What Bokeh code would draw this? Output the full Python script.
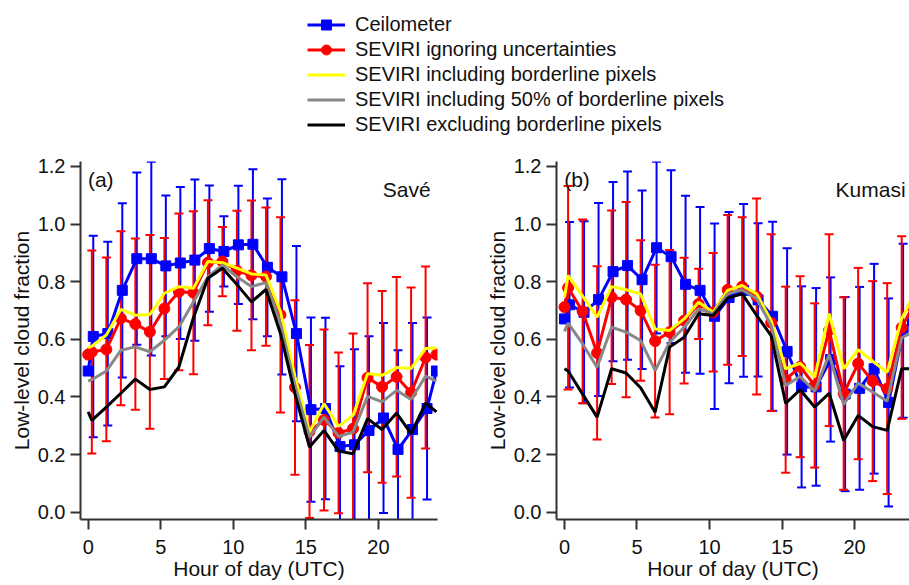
from bokeh.plotting import figure
from bokeh.models import (Range1d, FixedTicker, PrintfTickFormatter, Legend,
                          LegendItem, Label)
from bokeh.layouts import column, row
from bokeh.embed import file_html
from bokeh.resources import INLINE

# ---------------- data ----------------
HOURS = [0.25, 1.25, 2.25, 3.25, 4.25, 5.25, 6.25, 7.25, 8.25, 9.25, 10.25, 11.25,
         12.25, 13.25, 14.25, 15.25, 16.25, 17.25, 18.25, 19.25, 20.25, 21.25, 22.25, 23.25]
WRAP_HOURS = [0, 24]
X_TICKS = [0, 5, 10, 15, 20]
Y_TICKS = [0.0, 0.2, 0.4, 0.6, 0.8, 1.0, 1.2]

SERIES_NAMES = ["Ceilometer",
                "SEVIRI ignoring uncertainties",
                "SEVIRI including borderline pixels",
                "SEVIRI including 50% of borderline pixels",
                "SEVIRI excluding borderline pixels"]

# Savé
save_ceil = [0.61, 0.62, 0.77, 0.88, 0.88, 0.855, 0.865, 0.875, 0.915, 0.905, 0.928, 0.93,
             0.85, 0.817, 0.62, 0.356, 0.36, 0.228, 0.234, 0.284, 0.327, 0.218, 0.287, 0.36]
save_ceil_wrap = 0.49
save_ceil_sd = [0.35, 0.319, 0.302, 0.299, 0.336, 0.244, 0.264, 0.28, 0.219, 0.122, 0.205, 0.26,
                0.239, 0.339, 0.304, 0.32, 0.315, 0.279, 0.332, 0.327, 0.33, 0.344, 0.37, 0.316]
save_sev = [0.556, 0.565, 0.673, 0.653, 0.626, 0.707, 0.765, 0.762, 0.866, 0.87, 0.838, 0.822,
            0.818, 0.685, 0.433, 0.28, 0.32, 0.275, 0.29, 0.467, 0.435, 0.47, 0.415, 0.537]
save_sev_wrap = 0.547
save_sev_sd = [0.352, 0.319, 0.302, 0.297, 0.336, 0.245, 0.272, 0.283, 0.217, 0.12, 0.208, 0.26,
               0.24, 0.339, 0.303, 0.3, 0.314, 0.279, 0.33, 0.328, 0.333, 0.346, 0.365, 0.316]
save_inc = [0.576, 0.615, 0.704, 0.684, 0.686, 0.76, 0.783, 0.777, 0.87, 0.866, 0.847, 0.827,
            0.823, 0.696, 0.47, 0.278, 0.377, 0.298, 0.336, 0.481, 0.475, 0.502, 0.499, 0.568]
save_inc_wrap = 0.57
save_half = [0.46, 0.49, 0.562, 0.574, 0.557, 0.597, 0.643, 0.73, 0.817, 0.858, 0.817, 0.783,
             0.797, 0.655, 0.44, 0.261, 0.33, 0.263, 0.278, 0.402, 0.383, 0.423, 0.391, 0.472]
save_half_wrap = 0.455
save_exc = [0.319, 0.365, 0.413, 0.462, 0.426, 0.435, 0.504, 0.675, 0.812, 0.847, 0.79, 0.73,
            0.773, 0.62, 0.41, 0.226, 0.284, 0.212, 0.203, 0.325, 0.287, 0.344, 0.273, 0.379]
save_exc_wrap = 0.348

# Kumasi
kum_ceil = [0.72, 0.694, 0.738, 0.835, 0.856, 0.807, 0.918, 0.887, 0.791, 0.77, 0.68, 0.745,
            0.77, 0.737, 0.68, 0.558, 0.435, 0.435, 0.53, 0.41, 0.43, 0.498, 0.381, 0.63]
kum_ceil_wrap = 0.671
kum_ceil_sd = [0.287, 0.316, 0.335, 0.311, 0.327, 0.31, 0.298, 0.3, 0.307, 0.289, 0.322, 0.297,
               0.3, 0.266, 0.328, 0.358, 0.349, 0.343, 0.285, 0.337, 0.352, 0.364, 0.361, 0.302]
kum_sev = [0.779, 0.697, 0.553, 0.746, 0.738, 0.7, 0.594, 0.625, 0.665, 0.723, 0.694, 0.772,
           0.783, 0.749, 0.658, 0.46, 0.505, 0.44, 0.632, 0.412, 0.516, 0.455, 0.429, 0.641]
kum_sev_wrap = 0.712
kum_sev_sd = [0.353, 0.319, 0.301, 0.301, 0.339, 0.244, 0.265, 0.285, 0.218, 0.122, 0.206, 0.26,
              0.241, 0.34, 0.307, 0.323, 0.314, 0.285, 0.333, 0.334, 0.332, 0.347, 0.366, 0.317]
kum_inc = [0.822, 0.75, 0.677, 0.783, 0.772, 0.758, 0.636, 0.631, 0.671, 0.729, 0.694, 0.77,
           0.787, 0.758, 0.665, 0.498, 0.517, 0.469, 0.689, 0.498, 0.564, 0.524, 0.486, 0.671]
kum_inc_wrap = 0.746
kum_half = [0.656, 0.584, 0.503, 0.642, 0.625, 0.596, 0.492, 0.59, 0.642, 0.706, 0.689, 0.758,
            0.772, 0.741, 0.648, 0.44, 0.471, 0.42, 0.547, 0.374, 0.448, 0.417, 0.385, 0.605]
kum_half_wrap = 0.628
kum_exc = [0.49, 0.41, 0.33, 0.498, 0.483, 0.432, 0.347, 0.573, 0.607, 0.689, 0.683, 0.743,
           0.758, 0.683, 0.613, 0.378, 0.425, 0.365, 0.413, 0.249, 0.336, 0.297, 0.284, 0.498]
kum_exc_wrap = 0.498

# ---------------- style ----------------
BLUE = "#0000ff"
RED = "#ff0000"
YELLOW = "#ffff00"
GRAY = "#888888"
BLACK = "#000000"
FONT = "Liberation Sans"
TEXT = "#111111"
CEIL_OFFSET = 0.1


def with_wrap(xs, vals, wrap):
    return [WRAP_HOURS[0]] + list(xs) + [WRAP_HOURS[1]], [wrap] + list(vals) + [wrap]


def error_bars(p, xs, mean, sd, color):
    up = [m + s for m, s in zip(mean, sd)]
    lo = [m - s for m, s in zip(mean, sd)]
    p.segment(x0=xs, y0=lo, x1=xs, y1=up, line_color=color, line_width=2)
    p.scatter(x=xs, y=up, marker="dash", size=9, line_color=color, line_width=2)
    p.scatter(x=xs, y=lo, marker="dash", size=9, line_color=color, line_width=2)


def make_panel(x_start, x_end, width, min_left, min_right, d, tag, site, site_x):
    p = figure(width=width, height=437, x_range=Range1d(x_start, x_end),
               y_range=Range1d(-0.0253, 1.2173), toolbar_location=None, tools="",
               output_backend="svg", min_border_left=min_left, min_border_right=min_right,
               min_border_top=13, min_border_bottom=66)
    p.outline_line_color = None
    p.grid.visible = False
    p.background_fill_color = "white"
    p.border_fill_color = "white"

    ceil_x = [h + CEIL_OFFSET for h in HOURS]
    error_bars(p, ceil_x, d["ceil"], d["ceil_sd"], BLUE)
    error_bars(p, HOURS, d["sev"], d["sev_sd"], RED)

    x, y = with_wrap(ceil_x, d["ceil"], d["ceil_wrap"])
    p.line(x, y, line_color=BLUE, line_width=3)
    p.scatter(x, y, marker="square", size=10, fill_color=BLUE, line_color=BLUE)
    x, y = with_wrap(HOURS, d["sev"], d["sev_wrap"])
    p.line(x, y, line_color=RED, line_width=3)
    p.scatter(x, y, marker="circle", size=11, fill_color=RED, line_color=RED)
    x, y = with_wrap(HOURS, d["inc"], d["inc_wrap"])
    p.line(x, y, line_color=YELLOW, line_width=3)
    x, y = with_wrap(HOURS, d["half"], d["half_wrap"])
    p.line(x, y, line_color=GRAY, line_width=3)
    x, y = with_wrap(HOURS, d["exc"], d["exc_wrap"])
    p.line(x, y, line_color=BLACK, line_width=3)

    p.xaxis.ticker = FixedTicker(ticks=X_TICKS, minor_ticks=[])
    p.yaxis.ticker = FixedTicker(ticks=Y_TICKS, minor_ticks=[])
    p.yaxis.formatter = PrintfTickFormatter(format="%.1f")
    for ax in (p.xaxis[0], p.yaxis[0]):
        ax.axis_line_color = "#333333"
        ax.axis_line_width = 2
        ax.major_tick_line_color = "#333333"
        ax.major_tick_line_width = 2
        ax.major_tick_out = 10
        ax.major_tick_in = 0
        ax.minor_tick_out = 0
        ax.minor_tick_in = 0
        ax.major_label_text_font = FONT
        ax.major_label_text_font_size = "20px"
        ax.major_label_text_color = TEXT
        ax.axis_label_text_font = FONT
        ax.axis_label_text_font_size = "21px"
        ax.axis_label_text_font_style = "normal"
        ax.axis_label_text_color = TEXT
    p.xaxis.major_label_standoff = 10
    p.xaxis.axis_label = "Hour of day (UTC)"
    p.xaxis.axis_label_standoff = 0
    p.yaxis.major_label_standoff = 5
    p.yaxis.axis_label = "Low-level cloud fraction"
    p.yaxis.axis_label_standoff = 2

    p.add_layout(Label(x=-0.02, y=1.154, text=tag, text_align="left",
                       text_baseline="alphabetic", text_font=FONT, text_font_size="21px",
                       text_color=TEXT))
    p.add_layout(Label(x=site_x, y=1.119, text=site, text_align="right",
                       text_baseline="alphabetic", text_font=FONT, text_font_size="21px",
                       text_color=TEXT))
    return p


save = dict(ceil=save_ceil, ceil_wrap=save_ceil_wrap, ceil_sd=save_ceil_sd,
            sev=save_sev, sev_wrap=save_sev_wrap, sev_sd=save_sev_sd,
            inc=save_inc, inc_wrap=save_inc_wrap, half=save_half, half_wrap=save_half_wrap,
            exc=save_exc, exc_wrap=save_exc_wrap)
kum = dict(ceil=kum_ceil, ceil_wrap=kum_ceil_wrap, ceil_sd=kum_ceil_sd,
           sev=kum_sev, sev_wrap=kum_sev_wrap, sev_sd=kum_sev_sd,
           inc=kum_inc, inc_wrap=kum_inc_wrap, half=kum_half, half_wrap=kum_half_wrap,
           exc=kum_exc, exc_wrap=kum_exc_wrap)

# panel (a): frame 80..437 px; panel (b): frame 556..909 px (cut at the right edge)
pa = make_panel(-0.53, 24.07, 480, 80, 43, save, "(a)", "Savé", 23.6)
pb = make_panel(-0.55, 23.79, 429, 76, 0, kum, "(b)", "Kumasi", 23.52)

# ---------------- legend ----------------
NAN = [float("nan")]
pl = figure(width=909, height=148, x_range=Range1d(0, 1), y_range=Range1d(0, 1),
            toolbar_location=None, tools="", output_backend="svg", min_border=0,
            x_axis_type=None, y_axis_type=None)
pl.outline_line_color = None
pl.grid.visible = False
l1 = pl.line(x=NAN, y=NAN, line_color=BLUE, line_width=3)
m1 = pl.scatter(x=NAN, y=NAN, marker="square", size=10, fill_color=BLUE, line_color=BLUE)
l2 = pl.line(x=NAN, y=NAN, line_color=RED, line_width=3)
m2 = pl.scatter(x=NAN, y=NAN, marker="circle", size=11, fill_color=RED, line_color=RED)
l3 = pl.line(x=NAN, y=NAN, line_color=YELLOW, line_width=3)
l4 = pl.line(x=NAN, y=NAN, line_color=GRAY, line_width=3)
l5 = pl.line(x=NAN, y=NAN, line_color=BLACK, line_width=3)
legend = Legend(items=[LegendItem(label=SERIES_NAMES[0], renderers=[l1, m1]),
                       LegendItem(label=SERIES_NAMES[1], renderers=[l2, m2]),
                       LegendItem(label=SERIES_NAMES[2], renderers=[l3]),
                       LegendItem(label=SERIES_NAMES[3], renderers=[l4]),
                       LegendItem(label=SERIES_NAMES[4], renderers=[l5])],
                location=(307, 11), padding=0, margin=0, spacing=0,
                glyph_width=38, glyph_height=25, label_height=20, label_standoff=10,
                label_text_font=FONT, label_text_font_size="20px",
                label_text_color=TEXT, border_line_color=None,
                background_fill_alpha=0)
pl.add_layout(legend)

layout = column(pl, row(pa, pb))
open("out.html", "w").write(file_html(layout, INLINE))
